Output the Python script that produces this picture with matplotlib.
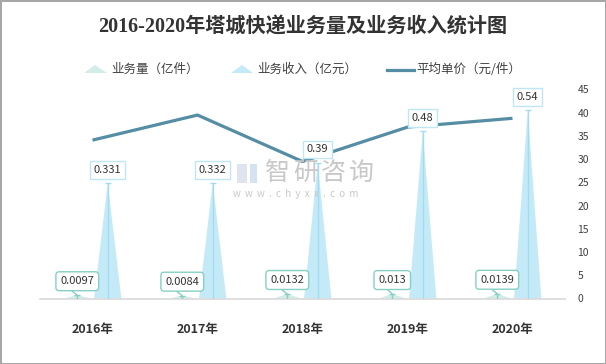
import matplotlib
matplotlib.use("Agg")
import matplotlib.pyplot as plt
from matplotlib.patches import Polygon
import numpy as np

plt.rcParams['font.family'] = ['Noto Sans CJK SC', 'DejaVu Sans']

# data
years = ['2016年', '2017年', '2018年', '2019年', '2020年']
volume = [0.0097, 0.0084, 0.0132, 0.013, 0.0139]      # 业务量（亿件）
revenue = [0.331, 0.332, 0.39, 0.48, 0.54]            # 业务收入（亿元）
unit_price = [34.1, 39.5, 29.5, 36.9, 38.8]           # 平均单价（元/件）
right_ticks = [0, 5, 10, 15, 20, 25, 30, 35, 40, 45]

vol_color = '#d2ece8'
vol_edge = '#86cfc2'
rev_color = '#c4eaf8'
rev_edge = '#a3dcef'
line_color = '#558ea4'

fig = plt.figure(figsize=(6.06, 3.64), dpi=100)
fig.patch.set_edgecolor('#a6a6a6')
fig.patch.set_linewidth(2)

ax = fig.add_axes([40 / 606, 1 - 298.5 / 364, 525 / 606, 209 / 364])
ax2 = ax.twinx()

x = np.arange(len(years))
off = 0.145
hw = 0.13

# pointed "bars"
for i in range(len(years)):
    xv = x[i] - off
    ax.fill([xv - hw, xv, xv + hw], [0, volume[i], 0], color=vol_color, lw=0, zorder=2)
    ax.vlines(xv, 0, volume[i], color=vol_edge, lw=1, zorder=3)
    ax.plot(xv, volume[i], marker='_', ms=5, color=vol_edge, mew=1, zorder=3)
    xr = x[i] + off
    ax.fill([xr - hw, xr, xr + hw], [0, revenue[i], 0], color=rev_color, lw=0, zorder=2)
    ax.vlines(xr, 0, revenue[i], color=rev_edge, lw=1, zorder=3)
    ax.plot(xr, revenue[i], marker='_', ms=5, color=rev_edge, mew=1, zorder=3)

ax.set_xlim(-0.5, len(years) - 0.5)
ax.set_ylim(0, 0.6)
ax.set_yticks([])
ax.set_xticks(x)
ax.set_xticklabels(years, fontsize=9, fontweight='bold', color='#333333')
ax.tick_params(axis='x', length=0, pad=18)
for s in ['top', 'left', 'right']:
    ax.spines[s].set_visible(False)
ax.spines['bottom'].set_color('#d9d9d9')
ax.spines['bottom'].set_linewidth(1.2)

# average price line
ax2.plot(x, unit_price, color=line_color, lw=2.3, zorder=4, solid_capstyle='butt')
ax2.set_ylim(0, 45)
ax2.set_yticks(right_ticks)
ax2.tick_params(axis='y', length=0, pad=9, labelsize=7.5, labelcolor='#404040')
for s in ['top', 'left', 'right', 'bottom']:
    ax2.spines[s].set_visible(False)

# data labels (drawn on top of the line)
for i in range(len(years)):
    ax2.annotate(f'{revenue[i]:g}', xy=(x[i] + off, revenue[i]), xycoords=ax.transData,
                 xytext=(0, 9.5), textcoords='offset points', ha='center', va='center',
                 fontsize=8, color='#333333', zorder=6,
                 bbox=dict(boxstyle='square,pad=0.35', fc='white', ec='#bfe6f5', lw=1))
    ax2.annotate(f'{volume[i]:g}', xy=(x[i] - off, volume[i]), xycoords=ax.transData,
                 xytext=(0, 10), textcoords='offset points', ha='center', va='center',
                 fontsize=8, color='#333333', zorder=6,
                 bbox=dict(boxstyle='round,pad=0.4,rounding_size=0.3', fc='white', ec=vol_edge, lw=1),
                 arrowprops=dict(arrowstyle='-', color=vol_edge, lw=1, relpos=(0.15, 0),
                                 shrinkA=0, shrinkB=0))

# title
fig.text(0.5, 1 - 28 / 364, '2016-2020年塔城快递业务量及业务收入统计图',
         family=['Liberation Serif', 'Noto Sans CJK SC'], fontweight='bold',
         fontsize=14.5, color='#333333', ha='center', va='center')

# legend drawn by hand
ly = 1 - 69.5 / 364
def px(xp, yp):
    return (xp / 606, 1 - yp / 364)

fig.add_artist(Polygon([px(84, 73), px(95, 65), px(107, 73)], closed=True,
                       transform=fig.transFigure, fc=vol_color, ec='none'))
fig.text(111 / 606, ly, '业务量（亿件）', fontsize=9, color='#404040', va='center')
fig.add_artist(Polygon([px(231, 73), px(242, 65), px(253, 73)], closed=True,
                       transform=fig.transFigure, fc=rev_color, ec='none'))
fig.text(257 / 606, ly, '业务收入（亿元）', fontsize=9, color='#404040', va='center')
fig.add_artist(plt.Line2D([387 / 606, 414 / 606], [ly, ly], transform=fig.transFigure,
                          color=line_color, lw=2.3))
fig.text(416 / 606, ly, '平均单价（元/件）', fontsize=9, color='#404040', va='center')

# watermark
for k, ch in enumerate('智研咨询'):
    fig.text((265 + 28 * k) / 606, 1 - 173 / 364, ch, fontsize=18, color='#c8c8c8',
             va='center', ha='left')
fig.text(233 / 606, 1 - 194 / 364, 'w  w  w  .  c  h  y  x  x  .  c  o  m', fontsize=7,
         color='#c8c8c8', va='center', ha='left')
# rough logo mark
fig.add_artist(Polygon([px(237, 164), px(247, 164), px(247, 183), px(237, 183)], closed=True,
                       transform=fig.transFigure, fc='#dfe4ee', ec='none'))
fig.add_artist(Polygon([px(250, 164), px(257, 164), px(257, 183), px(250, 183)], closed=True,
                       transform=fig.transFigure, fc='#d3e3f0', ec='none'))

fig.savefig('out.png', dpi=100)
